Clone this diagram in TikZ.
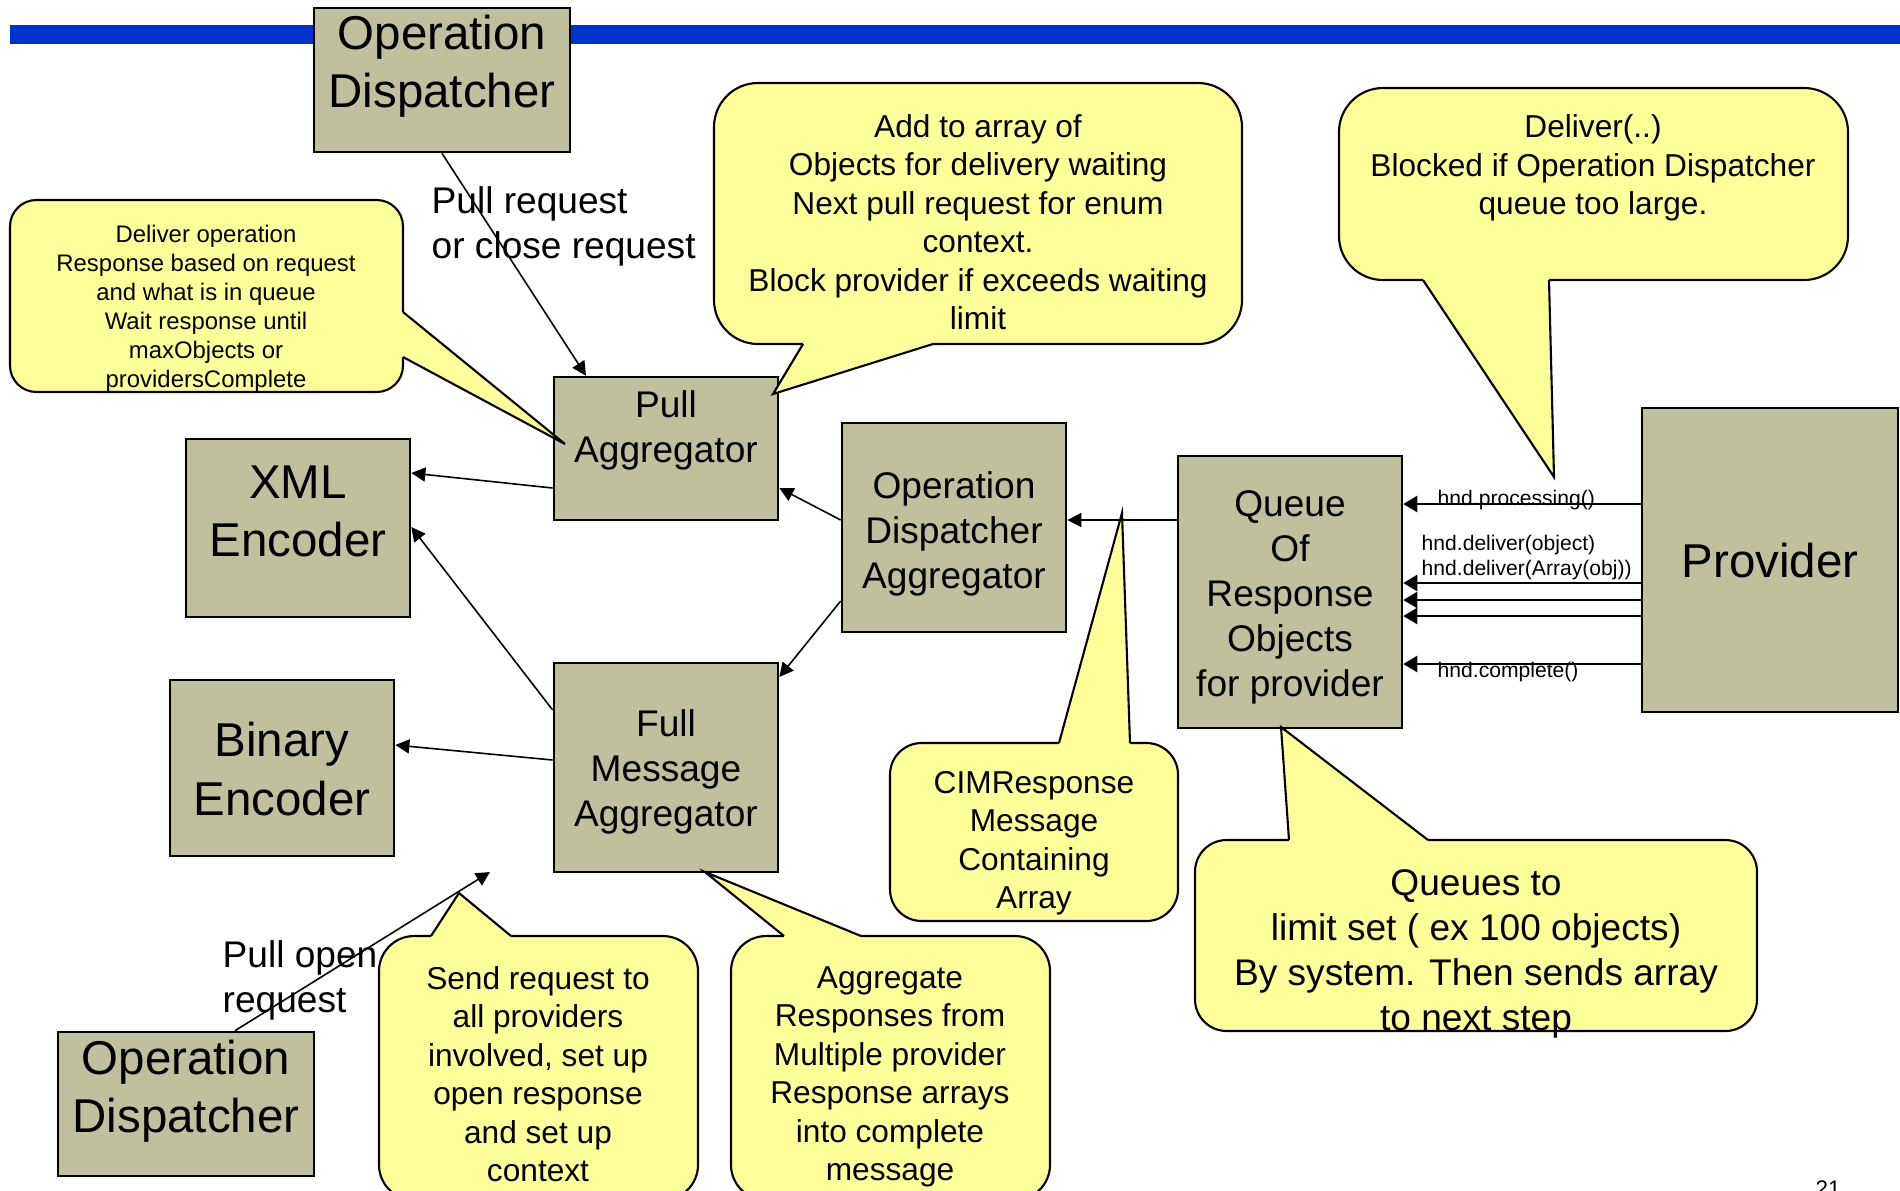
\documentclass[tikz,border=0pt]{standalone}
\usepackage{fontspec}
\setmainfont{Liberation Sans}
\usetikzlibrary{arrows.meta,fit}
\definecolor{boxfill}{RGB}{192,192,158}
\definecolor{callyellow}{RGB}{255,255,153}
\definecolor{barblue}{RGB}{0,51,204}
\tikzset{
  box/.style={draw=black, line width=0.75pt, fill=boxfill, inner sep=0pt},
  bigtxt/.style={font=\fontsize{13.5}{16.5}\selectfont, align=center, inner sep=0pt},
  midtxt/.style={font=\fontsize{10.55}{12.8}\selectfont, align=center, inner sep=0pt},
  calltxt/.style={font=\fontsize{9}{10.95}\selectfont, align=center, inner sep=0pt},
  smalltxt/.style={font=\fontsize{6.8}{8.25}\selectfont, align=center, inner sep=0pt},
  hndtxt/.style={font=\fontsize{6}{7.4}\selectfont, inner sep=0pt},
  callout/.style={draw=black, line width=0.6pt, fill=callyellow},
  ptrfill/.style={fill=callyellow},
  ptrline/.style={draw=black, line width=0.6pt, line join=miter},
  conn/.style={line width=0.45pt, -{Triangle[length=4pt,width=4pt]}},
  pconn/.style={line width=0.7pt, -{Triangle[length=4pt,width=4.6pt]}},
}
\begin{document}
\begin{tikzpicture}[x=0.01cm, y=-0.01cm]
\useasboundingbox (0,0) rectangle (1900,1190);
\clip (0,0) rectangle (1900,1190);

% blue bar
\fill[barblue] (10,25) rectangle (1900,44);

% boxes
\node[box, fit={(314,8) (570,152)}] (A) {};
\node[box, fit={(554,377) (778,520)}] (B) {};
\node[box, fit={(186,439) (410,617)}] (C) {};
\node[box, fit={(842,423) (1066,632)}] (D) {};
\node[box, fit={(554,663) (778,872)}] (E) {};
\node[box, fit={(170,680) (394,856)}] (F) {};
\node[box, fit={(58,1032) (314,1176)}] (G) {};
\node[box, fit={(1178,456) (1402,728)}] (H) {};
\node[box, fit={(1642,408) (1898,712)}] (I) {};

% callout K1 (left)
\draw[callout, rounded corners=7.5pt] (10,200) rectangle (403,392);
\fill[ptrfill] (398,312) -- (403,312) -- (565,444) -- (403,357) -- (398,357) -- cycle;
\draw[ptrline] (403,312) -- (565,444) -- (403,357);
% callout K2
\draw[callout, rounded corners=12.5pt] (714,83) rectangle (1242,344);
\fill[ptrfill] (803,339) -- (803,344) -- (773,394) -- (933,344) -- (933,339) -- cycle;
\draw[ptrline] (803,344) -- (773,394) -- (933,344);
% callout K3
\draw[callout, rounded corners=12.5pt] (1339,88) rectangle (1848,280);
\fill[ptrfill] (1423,275) -- (1423,280) -- (1554,477) -- (1549,280) -- (1549,275) -- cycle;
\draw[ptrline] (1423,280) -- (1554,477) -- (1549,280);
% callout K4
\draw[callout, rounded corners=9pt] (890,743) rectangle (1178,921);
\fill[ptrfill] (1059,748) -- (1059,743) -- (1122,513) -- (1130,743) -- (1130,748) -- cycle;
\draw[ptrline] (1059,743) -- (1122,513) -- (1130,743);
% callout K5
\draw[callout, rounded corners=9pt] (1195,840) rectangle (1757,1031);
\fill[ptrfill] (1289,845) -- (1289,840) -- (1281,727) -- (1428,840) -- (1428,845) -- cycle;
\draw[ptrline] (1289,840) -- (1281,727) -- (1428,840);
% callout K6
\draw[callout, rounded corners=10pt] (379,936) rectangle (698,1200);
\fill[ptrfill] (431,941) -- (431,936) -- (459,893) -- (511,936) -- (511,941) -- cycle;
\draw[ptrline] (431,936) -- (459,893) -- (511,936);
% callout K7
\draw[callout, rounded corners=10pt] (731,936) rectangle (1050,1200);
\fill[ptrfill] (784,941) -- (784,936) -- (705,872) -- (861,936) -- (861,941) -- cycle;
\draw[ptrline] (784,936) -- (705,872) -- (861,936);

% box texts
\node[bigtxt] (At) at (442,66) {Operation\\Dispatcher};
\node[bigtxt] (Ct) at (298,511) {XML\\Encoder};
\node[bigtxt] (Ft) at (282,769) {Binary\\Encoder};
\node[bigtxt] (Gt) at (186,1091) {Operation\\Dispatcher};
\node[bigtxt] (It) at (1770,561) {Provider};
\node[midtxt] (Bt) at (666,430) {Pull\\Aggregator};
\node[midtxt] (Dt) at (954,534) {Operation\\Dispatcher\\Aggregator};
\node[midtxt] (Et) at (666,772) {Full\\Message\\Aggregator};
\node[midtxt] (Ht) at (1290,597) {Queue\\Of\\Response\\Objects\\for provider};

% callout texts
\node[smalltxt] (K1t) at (206,309) {Deliver operation\\Response based on request\\and what is in queue\\Wait response until\\maxObjects or\\providersComplete};
\node[calltxt] (K2t) at (978,222) {Add to array of\\Objects for delivery waiting\\Next pull request for enum\\context.\\Block provider if exceeds waiting\\limit};
\node[calltxt] (K3t) at (1593,168) {Deliver(..)\\Blocked if Operation Dispatcher\\queue too large.};
\node[calltxt] (K4t) at (1034,843) {CIMResponse\\Message\\Containing\\Array};
\node[midtxt] (K5t) at (1476,954) {Queues to\\limit set ( ex 100 objects)\\By system. Then sends array\\to next step};
\node[calltxt] (K6t) at (538,1074) {Send request to\\all providers\\involved, set up\\open response\\and set up\\context};
\node[calltxt] (K7t) at (890,1077) {Aggregate\\Responses from\\Multiple provider\\Response arrays\\into complete\\message};

% connectors
\draw[conn] (A.south) -- (B.north -| 586,0);
\draw[conn] (D.west |- 0,520) -- (B.east |- 0,488);
\draw[conn] (D.west |- 0,601) -- (E.east |- 0,677);
\draw[conn] (B.west |- 0,488) -- (C.east |- 0,473);
\draw[conn] (E.west |- 0,710) -- (C.east |- 0,527);
\draw[conn] (E.west |- 0,760) -- (F.east |- 0,745);
\draw[conn] (H.west |- 0,520) -- (D.east |- 0,520);
\draw[pconn] (I.west |- 0,504) -- (H.east |- 0,504);
\draw[pconn] (I.west |- 0,583) -- (H.east |- 0,583);
\draw[pconn] (I.west |- 0,600) -- (H.east |- 0,600);
\draw[pconn] (I.west |- 0,616) -- (H.east |- 0,616);
\draw[pconn] (I.west |- 0,664) -- (H.east |- 0,664);
\coordinate (openTip) at (490,872);
\draw[conn] (G.north -| 235,0) -- (openTip);

% labels
\node[midtxt, align=left, anchor=west] (pullreq) at (431,226) {Pull request\\or close request};
\node[midtxt, align=left, anchor=west] (pullopen) at (222,980) {Pull open\\request};
\node[hndtxt, anchor=base west] (hp) at (1437,505) {hnd.processing()};
\node[hndtxt, anchor=base west] (hd1) at (1421,550) {hnd.deliver(object)};
\node[hndtxt, anchor=base west] (hd2) at (1421,575) {hnd.deliver(Array(obj))};
\node[hndtxt, anchor=base west] (hc) at (1437,677) {hnd.complete()};
\node[font=\fontsize{6.4}{7.7}\selectfont, anchor=base west, inner sep=0pt] (pg) at (1815,1196) {21};
\end{tikzpicture}
\end{document}
